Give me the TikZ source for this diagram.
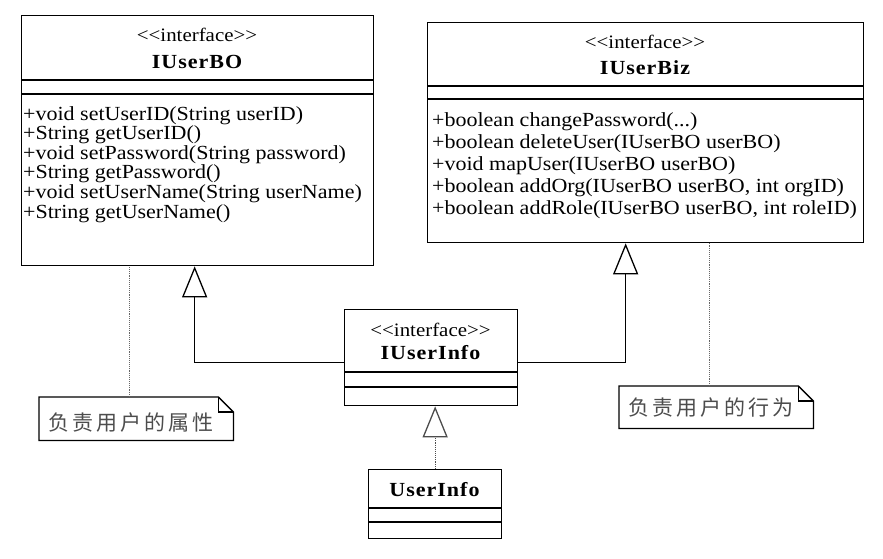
\documentclass[tikz,border=0pt]{standalone}
\usepackage{fontspec}
\setmainfont{Liberation Serif}[FakeStretch=1.1]
\newfontfamily\cjkfont{Noto Sans CJK SC}[LetterSpace=14]
\usetikzlibrary{arrows.meta}
\newcommand\ifacetag{<\kern0pt<interface>\kern0pt>}
\newcommand\threedots{...}

\begin{document}
\begin{tikzpicture}[x=1pt,y=-1pt,
  classbox/.style={draw,line width=1.3pt,inner sep=0pt,anchor=north west},
  notebox/.style={inner sep=0pt,anchor=north west},
  stereo/.style={font=\fontsize{19}{19}\selectfont},
  cname/.style={font=\fontsize{20}{20}\selectfont\bfseries\addfontfeature{LetterSpace=5}},
  method/.style={font=\fontsize{20}{20}\selectfont,anchor=base west,inner sep=0pt},
  notetext/.style={font=\fontsize{21}{21}\cjkfont,text=black!70},
  gen/.style={-{Triangle[open,length=31pt,width=25pt]},line width=1.3pt},
  real/.style={-{Triangle[open,length=31pt,width=25pt,line width=1.3pt]},densely dotted,line width=0.9pt,draw=black!70},
  dotline/.style={densely dotted,line width=0.9pt,draw=black!60}]
\useasboundingbox (0,0) rectangle (883,558);

% class boxes
\node[classbox,minimum width=352pt,minimum height=250pt] (bo) at (21,15) {};
\node[classbox,minimum width=436pt,minimum height=220pt] (biz) at (427,22) {};
\node[classbox,minimum width=173pt,minimum height=96pt] (info) at (344,309) {};
\node[classbox,minimum width=133pt,minimum height=69pt] (ui) at (368,469) {};

% compartments
\draw[line width=1.3pt] (21,80) -- (373,80);
\draw[line width=1.3pt] (21,94) -- (373,94);
\draw[line width=1.3pt] (427,86) -- (863,86);
\draw[line width=1.3pt] (427,99) -- (863,99);
\draw[line width=1.3pt] (344,372) -- (517,372);
\draw[line width=1.3pt] (344,387) -- (517,387);
\draw[line width=1.3pt] (368,508) -- (501,508);
\draw[line width=1.3pt] (368,522) -- (501,522);

% IUserBO
\node[stereo] (bo-st) at (197,35) {\ifacetag};
\node[cname] (bo-name) at (197,62) {IUserBO};
\foreach \m [count=\i] in {{+void setUserID(String userID)},{+String getUserID()},
    {+void setPassword(String password)},{+String getPassword()},
    {+void setUserName(String userName)},{+String getUserName()}}
  \node[method] (bo-m\i) at (23,100.5+19.6*\i) {\m};

% IUserBiz
\node[stereo] (biz-st) at (645,42) {\ifacetag};
\node[cname] (biz-name) at (645,68) {IUserBiz};
\foreach \m [count=\i] in {{+boolean changePassword(\threedots)},{+boolean deleteUser(IUserBO userBO)},
    {+void mapUser(IUserBO userBO)},{+boolean addOrg(IUserBO userBO, int orgID)},
    {+boolean addRole(IUserBO userBO, int roleID)}}
  \node[method] (biz-m\i) at (432,104+22*\i) {\m};

% IUserInfo and UserInfo
\node[stereo] (info-st) at (430.5,330) {\ifacetag};
\node[cname] (info-name) at (430.5,353) {IUserInfo};
\node[cname] (ui-name) at (434.5,490) {UserInfo};

% notes
\node[notebox,minimum width=194pt,minimum height=43pt] (n1) at (39,397) {};
\node[notebox,minimum width=194pt,minimum height=42pt] (n2) at (619,386) {};
\foreach \n in {n1,n2} {
  \draw[line width=1.3pt] (\n.north west) -- ([xshift=-15pt]\n.north east)
    -- ([yshift=-15pt]\n.north east) -- (\n.south east) -- (\n.south west) -- cycle;
  \draw[line width=1.3pt] ([xshift=-15pt]\n.north east) |- ([yshift=-15pt]\n.north east);
}
\node[notetext] (n1-t) at (131,423) {负责用户的属性};
\node[notetext] (n2-t) at (711,408) {负责用户的行为};

% connectors
\draw[gen] ([yshift=-5pt]info.west) -| ([xshift=-3pt]bo.south);
\draw[gen] ([yshift=-5pt]info.east) -| ([xshift=-20pt]biz.south);
\draw[real] (ui.north) -- (ui.north |- info.south);
\coordinate (n1-top) at ([xshift=-7pt]n1.north);
\coordinate (n2-top) at ([xshift=-7pt]n2.north);
\draw[dotline] (n1-top) -- (n1-top |- bo.south);
\draw[dotline] (n2-top) -- (n2-top |- biz.south);
\end{tikzpicture}
\end{document}
